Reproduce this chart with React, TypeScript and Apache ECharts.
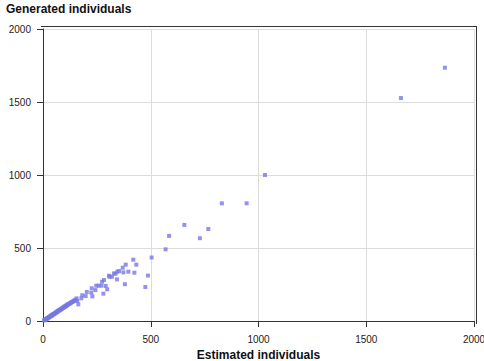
import React, { useEffect, useRef } from "react";
import * as echarts from "echarts";

const titleText = "Generated individuals";
const xAxisName = "Estimated individuals";
const axisTicks = [0, 500, 1000, 1500, 2000];

// Estimated individuals (x)
const estimated = [
  5, 8, 10, 12, 15, 18, 20, 22, 25, 28, 30, 33, 35, 38, 40, 42, 45, 48, 50, 52,
  55, 58, 60, 63, 65, 68, 70, 72, 75, 78, 80, 83, 85, 88, 90, 93, 95, 98, 100, 103,
  105, 108, 110, 113, 115, 118, 120, 125, 128, 130, 135, 138, 142, 145, 150, 156, 159, 164,
  178, 182, 198, 203, 224, 226, 229, 243, 247, 258, 271, 274, 280, 283, 291, 298,
  306, 309, 320, 329, 337, 343, 345, 353, 370, 373, 380, 384, 396, 419, 424, 433,
  475, 487, 504, 569, 585, 656, 728, 767, 830, 945, 1030, 1661, 1865,
];

// Generated individuals (y)
const generated = [
  4, 7, 10, 9, 14, 16, 19, 20, 24, 25, 29, 31, 33, 36, 39, 38, 44, 46, 48, 47,
  53, 56, 58, 60, 63, 66, 68, 70, 73, 75, 78, 80, 83, 85, 88, 90, 93, 95, 98, 99,
  103, 105, 107, 110, 113, 116, 117, 120, 124, 127, 130, 132, 137, 140, 145, 155, 137, 114,
  155, 176, 171, 199, 194, 224, 169, 212, 242, 242, 242, 269, 187, 281, 240, 217,
  310, 303, 303, 326, 324, 285, 338, 342, 365, 333, 252, 386, 338, 420, 331, 386,
  233, 311, 435, 491, 583, 658, 567, 630, 806, 806, 1000, 1527, 1735,
];

const points = estimated.map((x, i) => [x, generated[i]]);

export default function App() {
  const ref = useRef<HTMLDivElement>(null);
  useEffect(() => {
    if (!ref.current) return;
    const chart = echarts.init(ref.current, null, { renderer: "svg" });
    const font = "'Liberation Sans', Arial, sans-serif";
    const axisCommon = {
      type: "value" as const,
      min: axisTicks[0],
      max: axisTicks[axisTicks.length - 1],
      interval: axisTicks[1] - axisTicks[0],
      axisLine: { show: true, lineStyle: { color: "#333", width: 1 } },
      axisTick: { show: true, length: 6, lineStyle: { color: "#333" } },
      axisLabel: {
        color: "#222",
        fontSize: 10,
        fontFamily: font,
        formatter: (v: number) => String(v),
      },
      splitLine: { show: true, lineStyle: { color: "#dcdcdc", width: 1 } },
    };
    chart.setOption({
      animation: false,
      backgroundColor: "#fff",
      grid: {
        left: 43,
        right: 10,
        top: 29,
        bottom: 40,
        containLabel: false,
        outerBoundsMode: "none",
      },
      xAxis: {
        ...axisCommon,
        offset: 3,
        axisLabel: { ...axisCommon.axisLabel, margin: 10 },
        name: xAxisName,
        nameLocation: "middle",
        nameGap: 25,
        nameTextStyle: { color: "#111", fontSize: 12, fontWeight: "bold", fontFamily: font },
      },
      yAxis: {
        ...axisCommon,
        offset: 2,
        axisLabel: { ...axisCommon.axisLabel, margin: 10 },
      },
      graphic: [
        {
          type: "text",
          left: 6,
          top: 3,
          style: { text: titleText, fill: "#111", font: `bold 12px ${font}` },
        },
        {
          type: "line",
          shape: { x1: 41, y1: 26.5, x2: 477, y2: 26.5 },
          style: { stroke: "#333", lineWidth: 1 },
        },
        {
          type: "line",
          shape: { x1: 476.5, y1: 26, x2: 476.5, y2: 324 },
          style: { stroke: "#333", lineWidth: 1 },
        },
      ],
      series: [
        {
          type: "scatter",
          data: points,
          symbol: "rect",
          symbolSize: 4,
          itemStyle: { color: "#7878e4" },
        },
      ],
    });
    return () => chart.dispose();
  }, []);
  return (
    <div
      ref={ref}
      style={{ position: "absolute", left: 0, top: 0, width: 484, height: 361 }}
    />
  );
}
